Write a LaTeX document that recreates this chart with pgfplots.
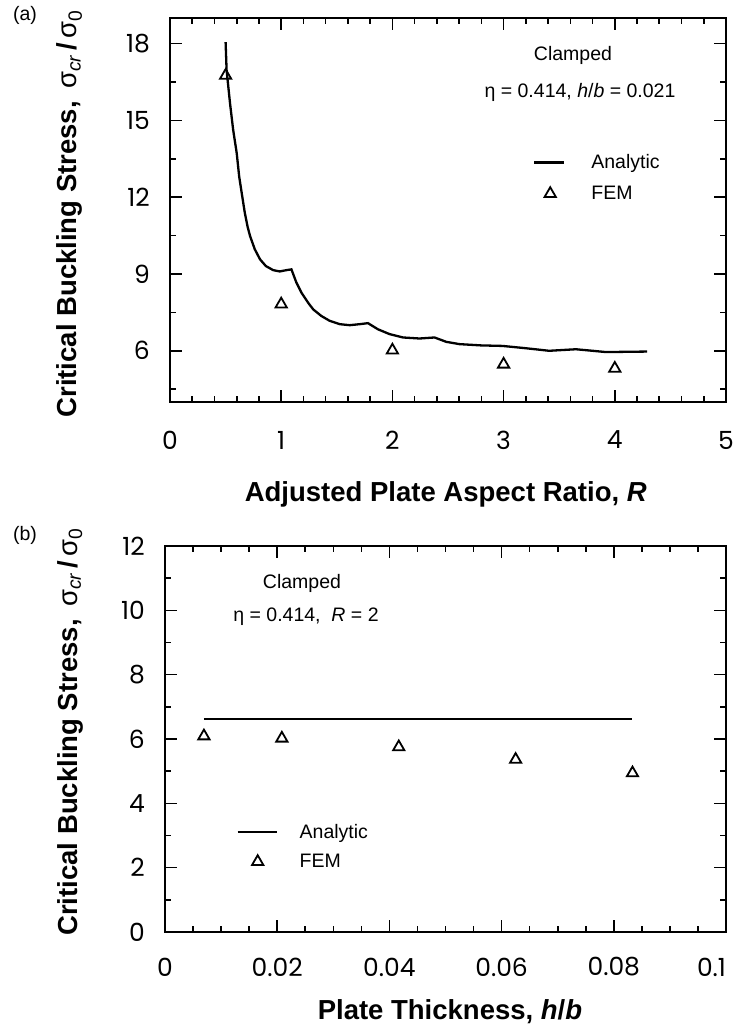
\documentclass[border=0pt]{standalone}
\usepackage{fontspec}
\usepackage{pgfplots}
\pgfplotsset{compat=1.18}
\setmainfont{Liberation Sans}
\newfontfamily\tickfont{Poppins}
\newcommand\tk{\tickfont\fontsize{25}{28}\selectfont}
\newcommand\lab{\fontsize{27.5}{31}\selectfont\bfseries}
\newcommand\ann{\fontsize{19.5}{23}\selectfont}

\pgfplotstableread{
R sig
0.500 18.06
0.509 16.96
0.540 15.66
0.568 14.63
0.600 13.72
0.622 12.81
0.645 12.16
0.673 11.38
0.697 10.86
0.720 10.48
0.763 9.96
0.810 9.57
0.862 9.31
0.928 9.15
0.987 9.10
1.047 9.15
1.092 9.18
1.137 8.66
1.182 8.27
1.242 7.88
1.287 7.62
1.361 7.36
1.436 7.17
1.526 7.04
1.616 7.00
1.706 7.04
1.780 7.08
1.870 6.84
1.975 6.65
2.095 6.52
2.244 6.48
2.379 6.52
2.484 6.35
2.603 6.26
2.800 6.21
2.990 6.19
3.200 6.10
3.410 6.00
3.650 6.06
3.800 6.00
3.920 5.95
4.100 5.96
4.290 5.97
}\analyticA

\pgfplotstableread{
R sig
0.5 16.75
1.0 7.82
2.0 6.02
3.0 5.47
4.0 5.31
}\femA

\pgfplotstableread{
hb sig
0.00694 6.62
0.08333 6.62
}\analyticB

\pgfplotstableread{
hb sig
0.00694 6.09
0.02083 6.02
0.04167 5.75
0.06250 5.36
0.08333 4.94
}\femB

\pgfplotsset{
  myaxis/.style={
    scale only axis,
    axis line style={line width=2pt},
    every tick/.style={black, line width=1.6pt},
    major tick length=12pt,
    minor tick length=6pt,
    tick align=inside,
    xtick pos=both, ytick pos=both,
    ticklabel style={font=\tk, inner sep=0pt},
    xticklabel style={anchor=center, yshift=-38pt},
    yticklabel style={anchor=east, xshift=-20pt},
    /pgf/number format/assume math mode=true,
    label style={font=\lab},
    legend cell align=left,
  },
  curve/.style={black, line width=2.3pt, no marks},
  fem/.style={black, only marks, mark=triangle, mark size=6.5pt, mark options={line width=1.8pt, fill=none}},
  limgA/.style={legend image code/.code={\draw[##1] (0pt,0pt) -- (30pt,0pt);}},
  mimgA/.style={legend image code/.code={\draw[##1] plot coordinates {(16pt,0pt)}; \path[draw=none] (0pt,0pt) (30pt,0pt);}},
  limgB/.style={legend image code/.code={\draw[##1] (0pt,0pt) -- (39pt,0pt);}},
  mimgB/.style={legend image code/.code={\draw[##1] plot coordinates {(20pt,0pt)}; \path[draw=none] (0pt,0pt) (39pt,0pt);}},
}

\begin{document}
\begin{tikzpicture}
\path[use as bounding box] (0pt,0pt) rectangle (734pt,1032pt);

% ---------------- (a) ----------------
\begin{axis}[myaxis,
  at={(170pt,630pt)}, anchor=south west,
  width=556pt, height=384pt,
  xmin=0, xmax=5, ymin=4, ymax=19,
  xtick={0,1,2,3,4,5}, minor x tick num=4,
  ytick={6,9,12,15,18}, minor ytick={4.5,7.5,10.5,13.5,16.5},
  xlabel={Adjusted Plate Aspect Ratio, \textit{R}},
  xlabel style={at={(axis description cs:0.496,-0.24)}, anchor=center},
  ylabel={Critical Buckling Stress,\hspace{0.45em}{\mdseries σ\textsubscript{\itshape cr}}\,/\,{\mdseries σ\textsubscript{0}}},
  ylabel style={at={(axis description cs:-0.18,0.49)}, anchor=center},
  legend style={at={(axis description cs:0.653,0.5836)}, anchor=west, draw=none, fill=none,
    font=\ann, inner sep=0pt, outer sep=0pt, nodes={inner sep=0pt}, column sep=26pt, row sep=16pt},
]
\addplot[curve, limgA] table[x=R,y=sig] {\analyticA};
\addlegendentry{Analytic}
\addplot[fem, mimgA] table[x=R,y=sig] {\femA};
\addlegendentry{FEM}
\end{axis}
\node[font=\ann] at (573pt,977pt) {Clamped};
\node[font=\ann] at (580pt,940pt) {η = 0.414, \textit{h}/\textit{b} = 0.021};
\node[font=\ann] at (25pt,1017pt) {(a)};

% ---------------- (b) ----------------
\begin{axis}[myaxis,
  at={(165pt,100pt)}, anchor=south west,
  width=561pt, height=386pt,
  xmin=0, xmax=0.1, ymin=0, ymax=12,
  xtick={0,0.02,0.04,0.06,0.08,0.1},
  xticklabels={0,0.02,0.04,0.06,0.08,\makebox[58pt][l]{0.1}},
  scaled x ticks=false, minor x tick num=3,
  ytick={0,2,4,6,8,10,12}, minor y tick num=1,
  xticklabel style={yshift=3pt},
  xlabel={Plate Thickness, \textit{h}/\textit{b}},
  xlabel style={at={(axis description cs:0.508,-0.207)}, anchor=center},
  ylabel={Critical Buckling Stress,\hspace{0.45em}{\mdseries σ\textsubscript{\itshape cr}}\,/\,{\mdseries σ\textsubscript{0}}},
  ylabel style={at={(axis description cs:-0.169,0.518)}, anchor=center},
  legend style={at={(axis description cs:0.1278,0.2205)}, anchor=west, draw=none, fill=none,
    font=\ann, inner sep=0pt, outer sep=0pt, nodes={inner sep=0pt}, column sep=22pt, row sep=14pt},
]
\addplot[curve, line width=2pt, limgB] table[x=hb,y=sig] {\analyticB};
\addlegendentry{Analytic}
\addplot[fem, mimgB] table[x=hb,y=sig] {\femB};
\addlegendentry{FEM}
\end{axis}
\node[font=\ann] at (302pt,449pt) {Clamped};
\node[font=\ann] at (306pt,415pt) {η = 0.414,\ \ \textit{R} = 2};
\node[font=\ann] at (25pt,497pt) {(b)};
\end{tikzpicture}
\end{document}
